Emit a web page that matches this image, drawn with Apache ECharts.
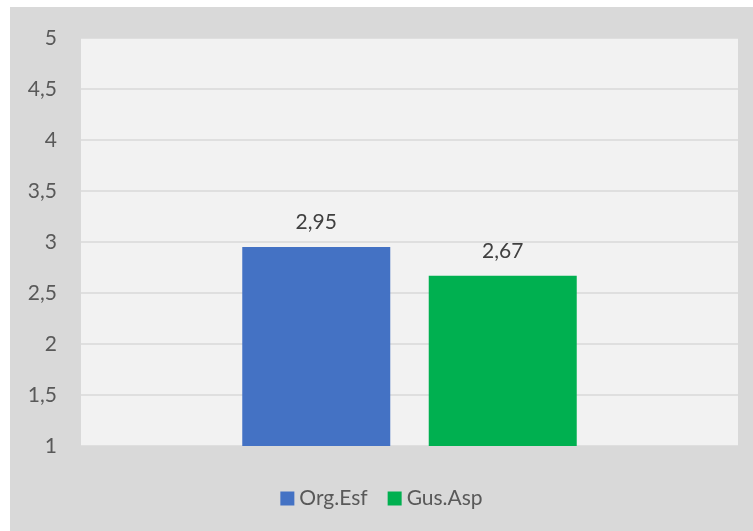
<!DOCTYPE html>
<html>
<head>
<meta charset="utf-8">
<script src="https://cdn.jsdelivr.net/npm/echarts@6/dist/echarts.min.js"></script>
<style>
  html, body { margin: 0; padding: 0; background: #ffffff; }
  #chart { position: absolute; left: 10px; top: 7px; width: 743px; height: 524px; }
</style>
</head>
<body>
<div id="chart"></div>
<script>
var seriesNames = ['Org.Esf', 'Gus.Asp'];
var seriesValues = [2.95, 2.67];
var seriesColors = ['#4472c4', '#00b050'];

function comma(v) {
    return String(v).replace('.', ',');
}

var chart = echarts.init(document.getElementById('chart'));

chart.setOption({
    backgroundColor: '#d9d9d9',
    textStyle: { fontFamily: 'Lato, "Open Sans", sans-serif' },
    grid: {
        left: 71, right: 15, top: 31, bottom: 85,
        show: true, backgroundColor: '#f2f2f2', borderWidth: 0
    },
    legend: {
        bottom: 17,
        left: 'center',
        icon: 'rect',
        itemWidth: 14,
        itemHeight: 14,
        itemGap: 20,
        textStyle: { color: '#595959', fontSize: 21 },
        data: seriesNames
    },
    xAxis: {
        type: 'category',
        data: [''],
        axisLabel: { show: false },
        axisTick: { show: false },
        axisLine: { lineStyle: { color: '#d9d9d9', width: 1 } }
    },
    yAxis: {
        type: 'value',
        min: 1,
        max: 5,
        interval: 0.5,
        axisLabel: {
            color: '#595959',
            fontSize: 21,
            margin: 24,
            formatter: function (v) { return comma(v); }
        },
        axisLine: { show: false },
        axisTick: { show: false },
        splitLine: { lineStyle: { color: '#d9d9d9', width: 1.5 } }
    },
    series: seriesNames.map(function (name, i) {
        return {
            name: name,
            type: 'bar',
            barWidth: 148,
            barGap: '26%',
            itemStyle: { color: seriesColors[i] },
            label: {
                show: true,
                position: 'top',
                distance: 14,
                color: '#404040',
                fontSize: 21,
                formatter: function (p) { return comma(p.value); }
            },
            data: [seriesValues[i]]
        };
    })
});
</script>
</body>
</html>
